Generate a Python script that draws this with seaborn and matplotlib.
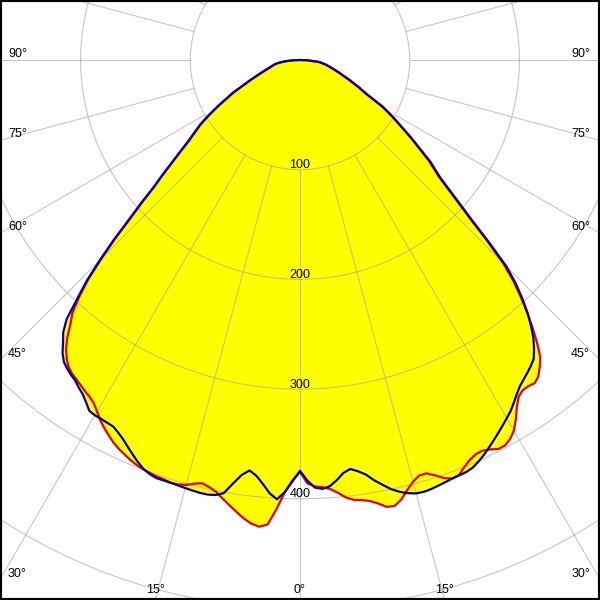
import numpy as np
import matplotlib
matplotlib.use("Agg")
import matplotlib.pyplot as plt
import seaborn as sns
import pandas as pd

# ---------------- data (cd/klm, angle from nadir in degrees) ----------------
angles = [-90, -88, -85, -82, -80, -76, -72, -68, -64, -60.5, -58.5, -57, -54, -52, -50,
          -49, -48, -47, -46, -45, -44, -43, -42, -41, -40, -39, -38, -37, -36, -35,
          -34, -33, -32, -31, -30, -29, -28, -27, -26, -25, -24, -23, -22, -21, -20,
          -19, -18, -17, -16, -15, -14, -13, -12, -11, -10, -9, -8, -7, -6, -5,
          -4, -3, -2, -1, 0, 1, 2, 3, 4, 5, 6, 7, 8, 9, 10,
          11, 12, 13, 14, 15, 16, 17, 18, 19, 20, 21, 22, 23, 24, 25,
          26, 27, 28, 29, 30, 31, 32, 33, 34, 35, 36, 37, 38, 39, 40,
          41, 42, 43, 44, 45, 46, 47, 48, 49, 50, 52, 55, 58.5, 60.5, 63,
          65, 68, 72, 76, 80, 84, 88, 90]

blue = [0, 6, 14, 21, 24, 29, 37, 49, 68, 87, 99.5, 109, 126, 143, 165,
        177, 195, 213, 236, 258, 280, 298, 318, 329, 336, 344, 349.5, 352.5, 355, 357,
        360.5, 363.5, 368, 373, 374, 374, 374.5, 375, 378, 381.5, 386, 390.5, 395, 399, 401.5,
        403, 403, 403, 403.5, 404, 404.5, 405, 405, 404, 401, 391, 382, 377, 381, 388,
        396, 401, 394, 384, 374.5, 383.5, 390, 391.5, 389.5, 384.5, 378.5, 375.6, 378.5, 382.5, 389,
        394.5, 400, 404, 407, 409, 409.5, 409, 408, 407, 406, 405.5, 405, 403.5, 400.5, 397,
        393, 389, 385, 381, 377, 373, 368, 363, 358.5, 355.5, 352.5, 349.5, 346, 339, 331,
        321, 310, 297, 283, 266, 240, 215, 196, 180, 167, 151, 124, 99.4, 87, 68,
        60, 49, 38, 30, 24, 18, 7, 0]

red = [0, 5, 13, 20, 23, 28, 36, 48, 67, 86, 98.5, 108, 125, 142, 164,
       176, 193, 211, 234, 256, 278, 295, 310, 319, 330, 339, 345.5, 350.5, 353.5, 355.5,
       357.5, 360, 362, 365, 370, 375.5, 380, 384, 388, 391, 393.5, 396, 398, 399.5, 400.5,
       401.5, 402, 403, 402.5, 401, 398, 396, 398, 401, 406, 411, 416, 421, 425, 427,
       424.5, 410, 394, 383, 375.5, 386, 389, 390, 392, 396, 401, 404, 405, 407, 410.5,
       415, 415.5, 411, 404, 398, 394, 394, 398, 403, 406, 405, 400, 396, 393.5, 393,
       395, 398, 398, 395, 390, 382, 373, 366, 363, 363, 364, 361, 355, 348, 336,
       323, 309, 295, 280, 262, 237, 212, 194, 178, 165, 149, 123, 98.5, 86, 67,
       59, 48, 37, 29, 23, 17, 6, 0]

ring_values = [100, 200, 300, 400, 500, 600]
ring_labels = ["100", "200", "300", "400"]
spoke_angles = list(range(0, 360, 15))
side_label_angles = [90, 75, 60, 45, 30]
bottom_label_angles = [-15, 0, 15]

# ---------------- style ----------------
sns.set_style("white")
plt.rcParams['font.family'] = ['Liberation Sans', 'DejaVu Sans']

PX = 1.097          # pixels per cd/klm
W = H = 600
CX, CY = 300, 60    # pole position in pixels from top-left

def to_xy(theta_deg, r):
    t = np.radians(np.asarray(theta_deg, dtype=float))
    r = np.asarray(r, dtype=float)
    return r * np.sin(t), -r * np.cos(t)

fig = plt.figure(figsize=(6, 6), dpi=100)
ax = fig.add_axes([0, 0, 1, 1])

# envelope fill
env = np.maximum(np.array(blue), np.array(red))
ex, ey = to_xy(angles, env)
ax.fill(ex, ey, color="#ffff00", lw=0, zorder=1)

# grid
grid_kw = dict(color="#a0a0a0", alpha=0.6, lw=0.8, zorder=2)
tt = np.linspace(0, 360, 1441)
for rv in ring_values:
    gx, gy = to_xy(tt, np.full_like(tt, rv))
    ax.plot(gx, gy, **grid_kw)
for a in spoke_angles:
    sx, sy = to_xy([a, a], [100, 800])
    ax.plot(sx, sy, **grid_kw)

# curves
bx, by = to_xy(angles, red)
df_red = pd.DataFrame({"x": bx, "y": by})
cx, cy = to_xy(angles, blue)
df_blue = pd.DataFrame({"x": cx, "y": cy})
sns.lineplot(data=df_red, x="x", y="y", sort=False, estimator=None,
             color="#e00000", lw=1.6, ax=ax, zorder=3)
sns.lineplot(data=df_blue, x="x", y="y", sort=False, estimator=None,
             color="#0000b0", lw=1.6, ax=ax, zorder=4)

xmin, xmax = -CX / PX, (W - CX) / PX
ymin, ymax = -(H - CY) / PX, CY / PX
ax.set_xlim(xmin, xmax)
ax.set_ylim(ymin, ymax)

txt_kw = dict(fontsize=9, color="black", zorder=6, textcoords="offset pixels")

# ring labels
for lab, rv in zip(ring_labels, ring_values):
    ax.annotate(lab, xy=(0, -rv), xytext=(0, 1.5), ha="center", va="baseline", **txt_kw)

# side angle labels
for a in side_label_angles:
    t = np.radians(a)
    yl = -(-xmin) / np.tan(t) if a != 90 else 0.0
    ax.annotate(f"{a}°", xy=(xmin, yl), xytext=(8, 3), ha="left", va="baseline", **txt_kw)
    ax.annotate(f"{a}°", xy=(xmax, yl), xytext=(-10, 3), ha="right", va="baseline", **txt_kw)

# bottom angle labels
for a in bottom_label_angles:
    xb = np.tan(np.radians(a)) * (-ymin)
    ax.annotate(f"{abs(a)}°", xy=(xb, ymin), xytext=(0, 7), ha="center", va="baseline", **txt_kw)

ax.set_xticks([])
ax.set_yticks([])
ax.set_xlabel("")
ax.set_ylabel("")
for sp in ax.spines.values():
    sp.set_color("black")
    sp.set_linewidth(3)
    sp.set_visible(True)

fig.savefig("out.png", dpi=100, facecolor="white")
